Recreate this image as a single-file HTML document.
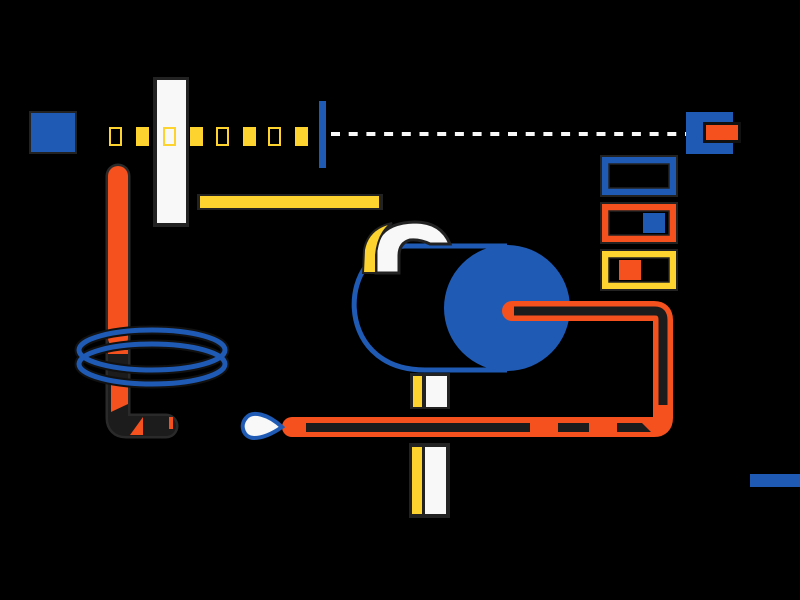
<!DOCTYPE html>
<html><head><meta charset="utf-8"><style>
html,body{margin:0;padding:0;background:#000;}
svg{display:block;}
</style></head><body>
<svg width="800" height="600" viewBox="0 0 800 600" xmlns="http://www.w3.org/2000/svg">
<rect width="800" height="600" fill="#000"/>
<!-- left blue square -->
<rect x="29" y="111" width="48" height="43" fill="#222"/>
<rect x="31" y="113" width="44" height="39" fill="#1f5bb5"/>
<!-- white vertical bar -->
<rect x="153" y="77" width="36" height="150" fill="#222"/>
<rect x="157" y="80" width="29" height="143" fill="#f8f8f8"/>
<!-- yellow squares row -->
<g stroke="#fdd32f" stroke-width="2" fill="none">
<rect x="110" y="128" width="11" height="17"/>
<rect x="164" y="128" width="11" height="17"/>
<rect x="217" y="128" width="11" height="17"/>
<rect x="269" y="128" width="11" height="17"/>
</g>
<g fill="#fdd32f">
<rect x="136" y="127" width="13" height="19"/>
<rect x="190" y="127" width="13" height="19"/>
<rect x="243" y="127" width="13" height="19"/>
<rect x="295" y="127" width="13" height="19"/>
</g>
<!-- blue vertical tick -->
<rect x="319" y="101" width="7" height="67" fill="#1f5bb5"/>
<!-- dashed line -->
<line x1="331" y1="134" x2="686" y2="134" stroke="#f8f8f8" stroke-width="4" stroke-dasharray="9 8.7"/>
<!-- yellow horizontal bar -->
<rect x="197" y="194" width="186" height="16" fill="#222"/>
<rect x="200" y="196" width="179" height="12" fill="#fdd32f"/>
<!-- right blue square with orange -->
<rect x="686" y="112" width="47" height="42" fill="#1f5bb5"/>
<rect x="703" y="122" width="38" height="21" fill="#111"/>
<rect x="706" y="125" width="32" height="15" fill="#f4511e"/>
<!-- three framed rects -->
<rect x="600" y="155" width="78" height="42" fill="#222"/>
<rect x="602" y="157" width="74" height="38" fill="#1f5bb5"/>
<rect x="609" y="164" width="60" height="24" fill="#000" stroke="#222" stroke-width="1.5"/>
<rect x="600" y="202" width="78" height="42" fill="#222"/>
<rect x="602" y="204" width="74" height="38" fill="#f4511e"/>
<rect x="609" y="211" width="60" height="24" fill="#000" stroke="#222" stroke-width="1.5"/>
<rect x="643" y="213" width="22" height="20" fill="#1f5bb5"/>
<rect x="600" y="249" width="78" height="42" fill="#222"/>
<rect x="602" y="251" width="74" height="38" fill="#fdd32f"/>
<rect x="609" y="258" width="60" height="24" fill="#000" stroke="#222" stroke-width="1.5"/>
<rect x="619" y="260" width="22" height="20" fill="#f4511e"/>
<!-- bottom right blue bar -->
<rect x="750" y="474" width="50" height="13" fill="#1f5bb5"/>
<!-- left pill / elbow -->
<path d="M118 176 L118 418 Q118 426 126 426 L166 426" stroke="#2a2a2a" stroke-width="25" fill="none" stroke-linecap="round" stroke-linejoin="round"/>
<path d="M118 176 L118 418 Q118 426 126 426 L166 426" stroke="#1c1c1c" stroke-width="20" fill="none" stroke-linecap="round" stroke-linejoin="round"/>
<path d="M118 176 L118 338" stroke="#f4511e" stroke-width="20" fill="none" stroke-linecap="round"/>
<rect x="108" y="350" width="20" height="4" fill="#f4511e"/>
<polygon points="111,383 128,383 128,404 111,412" fill="#f4511e"/>
<polygon points="130,435 143,417 143,435" fill="#f4511e"/>
<rect x="169" y="417" width="4" height="12" fill="#f4511e"/>
<!-- rings -->
<ellipse cx="152" cy="350" rx="73" ry="20" fill="none" stroke="#111" stroke-width="9"/>
<ellipse cx="152" cy="364" rx="73" ry="20" fill="none" stroke="#111" stroke-width="9"/>
<ellipse cx="152" cy="350" rx="73" ry="20" fill="none" stroke="#1f5bb5" stroke-width="5"/>
<ellipse cx="152" cy="364" rx="73" ry="20" fill="none" stroke="#1f5bb5" stroke-width="5"/>
<!-- blob outline -->
<path d="M507 246 L405 246 C338 246 330 370 425 370 L507 370" fill="none" stroke="#1f5bb5" stroke-width="5"/>
<!-- hook -->
<path d="M376 273 L376 250 Q378 223 415 222 Q441 222 450 244 L430 244 Q420 239 410 240 Q399 243 399 256 L399 273 Z" fill="#f8f8f8" stroke="#222" stroke-width="3"/>
<path d="M363 273 L364 250 Q368 228 392 223 Q378 233 376 255 L376 273 Z" fill="#fdd32f" stroke="#222" stroke-width="2"/>
<!-- blue circle -->
<circle cx="507" cy="308" r="63" fill="#1f5bb5"/>
<!-- orange pipe -->
<path d="M512 311 L654 311 Q663 311 663 320 L663 418 Q663 427 654 427 L292 427" fill="none" stroke="#f4511e" stroke-width="20" stroke-linecap="round" stroke-linejoin="round"/>
<path d="M514 311 L655 311 Q663 311 663 320 L663 405" fill="none" stroke="#1c1c1c" stroke-width="9" stroke-linejoin="round"/>
<g fill="#1c1c1c">
<rect x="306" y="423" width="224" height="9"/>
<rect x="558" y="423" width="31" height="9"/>
<polygon points="617,423 642,423 651,432 617,432"/>
</g>
<!-- teardrop -->
<path d="M282 427 C268 414 252 410 246 418 C239 426 244 438 254 438 C262 438 272 434 282 427 Z" fill="#f8f8f8" stroke="#1f5bb5" stroke-width="4"/>
<!-- small yellow/white boxes -->
<rect x="410" y="373" width="40" height="36" fill="#222"/>
<rect x="413" y="376" width="9" height="31" fill="#fdd32f"/>
<rect x="426" y="376" width="21" height="31" fill="#f8f8f8"/>
<rect x="409" y="443" width="41" height="75" fill="#222"/>
<rect x="412" y="447" width="10" height="67" fill="#fdd32f"/>
<rect x="425" y="447" width="21" height="67" fill="#f8f8f8"/>
</svg>
</body></html>
